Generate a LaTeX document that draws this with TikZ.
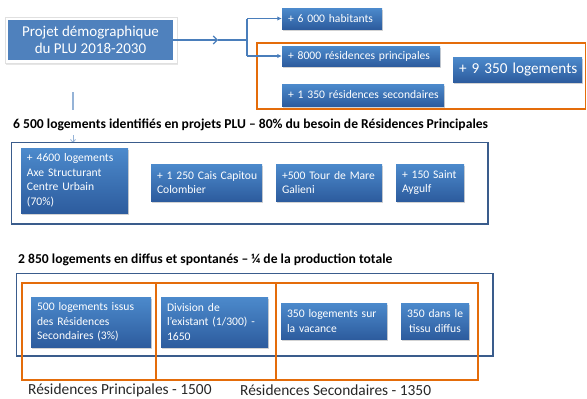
\documentclass[tikz,border=0pt]{standalone}
\usepackage{fontspec}
\setmainfont{Carlito}
\usetikzlibrary{arrows.meta,shadows}
\definecolor{boxtop}{RGB}{76,138,204}
\definecolor{boxbot}{RGB}{45,92,158}
\definecolor{titleblue}{RGB}{79,129,189}
\definecolor{linkblue}{RGB}{74,126,187}
\definecolor{frameblue}{RGB}{58,92,140}
\definecolor{frameorange}{RGB}{228,108,10}
\definecolor{paleblue}{RGB}{149,179,215}
\begin{document}
\begin{tikzpicture}[x=1pt,y=-1pt,
  bluebox/.style={rectangle, top color=boxtop, bottom color=boxbot, draw=none,
    text=white, inner xsep=6pt, inner ysep=1pt, align=left,
    font=\fontsize{11.6}{14.5}\selectfont,
    drop shadow={shadow xshift=1pt, shadow yshift=-1.5pt, opacity=0.35}},
  card/.style={rectangle, fill=white, draw=black!12, line width=0.6pt,
    drop shadow={shadow xshift=1pt, shadow yshift=-1.5pt, opacity=0.2}},
  titlebox/.style={rectangle, fill=titleblue, text=white, align=center,
    font=\fontsize{15}{17}\selectfont},
  heading/.style={anchor=west, inner sep=0pt, font=\bfseries\fontsize{13.6}{16}\selectfont},
  footlabel/.style={anchor=west, inner sep=0pt, text=black!85, font=\fontsize{15.4}{17}\selectfont},
  link/.style={draw=linkblue, line width=1.1pt},
  bluefr/.style={draw=frameblue, line width=1.8pt},
  orangefr/.style={draw=frameorange, line width=1.8pt},
]
\useasboundingbox (0,0) rectangle (587,399);

% top title
\node[card, minimum width=172pt, minimum height=46pt] (card) at (91,40) {};
\node[titlebox, minimum width=165pt, minimum height=40pt] (title) at (90.5,40)
  {Projet démographique\\du PLU 2018-2030};

% orange frame top
\draw[orangefr] (257,43) rectangle (585.5,109);

% top boxes
\node[bluebox, text width=88pt, minimum height=21pt] (hab) at (332,18.5) {\mbox{+ 6 000 habitants}};
\node[bluebox, text width=146pt, minimum height=20pt] (rp) at (361,56) {\mbox{+ 8000 résidences principales}};
\node[bluebox, text width=150pt, minimum height=22pt] (rs) at (363,95) {\mbox{+ 1 350 résidences secondaires}};
\node[bluebox, align=center, text width=117pt, minimum height=25pt,
  font=\fontsize{15.2}{17}\selectfont] (log) at (517.5,69.5) {\mbox{+ 9 350 logements}};

% connectors
\coordinate (c1) at (218,40);
\coordinate (c2) at (247,40);
\coordinate (c3) at (247,18.5);
\coordinate (c4) at (247,56);
\draw[link, -{Straight Barb[length=4pt,width=8pt]}] (title.east) -- (c1);
\draw[link] (c1) -- (c2);
\draw[link] (c3) -- (c4);
\draw[link, -{Latex[length=4.5pt,width=4.5pt]}] (c3) -- (hab.west);
\draw[link, -{Latex[length=4.5pt,width=4.5pt]}] (c4) -- (rp.west);

% faint vertical line and arrow
\coordinate (v1) at (73,92);
\coordinate (v2) at (73,110);
\coordinate (v3) at (73,135);
\coordinate (v4) at (73,143);
\draw[draw=paleblue, line width=1.2pt] (v1) -- (v2);
\draw[draw=paleblue, line width=0.8pt, -{Straight Barb[length=3pt,width=5pt]}] (v3) -- (v4);

% heading 2
\node[heading] (h1) at (13,125) {6 500 logements identifiés en projets PLU – 80\% du besoin de Résidences Principales};
\draw[bluefr] (11.5,142.5) rectangle (488,224);
\node[bluebox, text width=95pt, minimum height=65pt] (b1) at (74.5,180.5)
  {\mbox{+ 4600 logements}\\\mbox{Axe Structurant}\\\mbox{Centre Urbain}\\(70\%)};
\node[bluebox, text width=99pt, minimum height=37pt] (b2) at (206.5,182.5)
  {\mbox{+ 1 250 Cais Capitou}\\Colombier};
\node[bluebox, text width=94pt, minimum height=37pt] (b3) at (329,182.5)
  {\mbox{+500 Tour de Mare}\\Galieni};
\node[bluebox, text width=56pt, minimum height=37pt] (b4) at (430,182.5)
  {\mbox{+ 150 Saint}\\Aygulf};

% heading 3
\node[heading] (h2) at (18,260) {2 850 logements en diffus et spontanés – ¼ de la production totale};
\draw[bluefr] (16.5,273.5) rectangle (493,356);
\draw[orangefr] (22,283) rectangle (156,380);
\draw[orangefr] (156,283) rectangle (276,380);
\draw[orangefr] (276,283) rectangle (478,380);
\node[bluebox, text width=108pt, minimum height=50pt] (d1) at (91,322)
  {\mbox{500 logements issus}\\\mbox{des Résidences}\\\mbox{Secondaires (3\%)}};
\node[bluebox, text width=95pt, minimum height=50pt] (d2) at (214.5,322)
  {\mbox{Division de}\\\mbox{l'existant (1/300) -}\\1650};
\node[bluebox, text width=94pt, minimum height=36pt] (d3) at (334,321)
  {\mbox{350 logements sur}\\\mbox{la vacance}};
\node[bluebox, align=center, text width=56pt, minimum height=36pt] (d4) at (435,321)
  {\mbox{350 dans le}\\\mbox{tissu diffus}};

% bottom labels
\node[footlabel] (f1) at (28,390) {Résidences Principales - 1500};
\node[footlabel] (f2) at (240,390) {Résidences Secondaires - 1350};
\end{tikzpicture}
\end{document}
